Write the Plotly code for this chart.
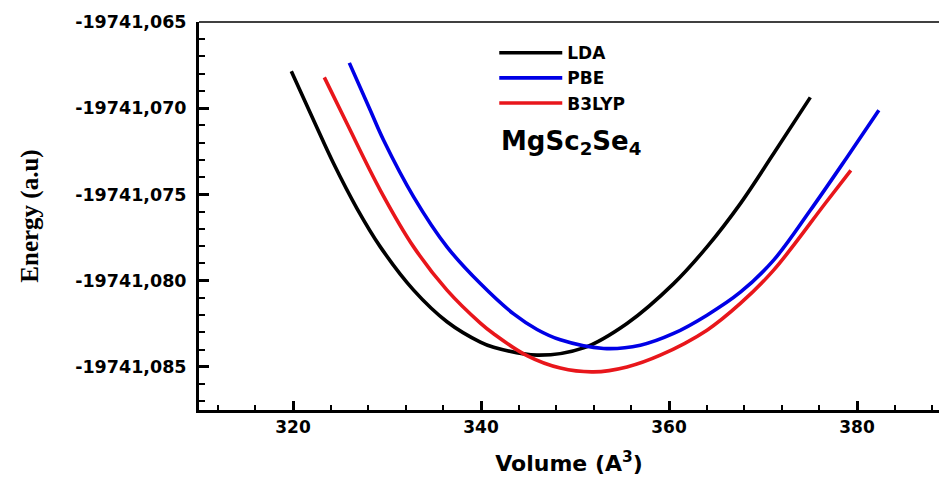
import plotly.graph_objects as go

# ---- data ----
lda_v = [319.82, 322.19, 324.32, 326.81, 329.29, 332.83, 336.38, 339.93, 341.34,
         345.96, 350.91, 355.53, 360.49, 364.04, 367.59, 371.13, 375.03]
lda_e = [-19741.06786, -19741.07070, -19741.07321, -19741.07582, -19741.07804,
         -19741.08055, -19741.08238, -19741.08356, -19741.08386, -19741.08432,
         -19741.08390, -19741.08248, -19741.08017, -19741.07804, -19741.07553,
         -19741.07263, -19741.06937]

pbe_v = [325.99, 328.22, 329.64, 332.83, 336.38, 339.93, 343.47, 345.96, 348.44,
         353.04, 356.95, 360.49, 364.04, 367.59, 371.13, 375.03, 378.94, 382.32]
pbe_e = [-19741.06737, -19741.07012, -19741.07186, -19741.07514, -19741.07804,
         -19741.08017, -19741.08193, -19741.08283, -19741.08343, -19741.08393,
         -19741.08374, -19741.08306, -19741.08200, -19741.08067, -19741.07881,
         -19741.07592, -19741.07284, -19741.07012]

b3lyp_v = [323.33, 325.74, 329.29, 332.83, 336.38, 339.93, 341.34, 344.89,
           348.44, 351.98, 355.53, 359.07, 364.04, 367.59, 371.13, 376.63, 379.34]
b3lyp_e = [-19741.06821, -19741.07089, -19741.07476, -19741.07804,
           -19741.08055, -19741.08246, -19741.08308, -19741.08435, -19741.08507,
           -19741.08529, -19741.08500, -19741.08432, -19741.08287, -19741.08132,
           -19741.07939, -19741.07551, -19741.07360]

y_tickvals = [-19741.085, -19741.080, -19741.075, -19741.070, -19741.065]
y_ticktext = ["-19741,085", "-19741,080", "-19741,075", "-19741,070", "-19741,065"]
x_tickvals = [320, 340, 360, 380]
x_ticktext = ["320", "340", "360", "380"]

series_names = ["LDA", "PBE", "B3LYP"]
series_colors = ["#000000", "#0000e6", "#e8161b"]

SANS = "DejaVu Sans"
SERIF = "Liberation Serif"

fig = go.Figure()
for name, xs, ys, col in zip(series_names, [lda_v, pbe_v, b3lyp_v],
                             [lda_e, pbe_e, b3lyp_e], series_colors):
    fig.add_trace(go.Scatter(x=xs, y=ys, mode="lines", name=name,
                             line=dict(color=col, width=3.6, shape="spline", smoothing=1.0)))

fig.update_layout(
    width=939, height=477,
    margin=dict(l=199, r=0, t=22, b=67, autoexpand=False),
    paper_bgcolor="white", plot_bgcolor="white",
    font=dict(family=SANS, weight="bold", color="black", size=16),
    showlegend=True,
    legend=dict(x=0.399, y=0.966, xanchor="left", yanchor="top",
                bgcolor="rgba(0,0,0,0)", borderwidth=0,
                font=dict(family=SANS, weight="bold", size=17, color="black"),
                itemwidth=63, tracegroupgap=0),
    xaxis=dict(
        range=[310, 388.72], showgrid=False, zeroline=False,
        showline=True, linecolor="black", linewidth=3,
        tickmode="array", tickvals=x_tickvals, ticktext=x_ticktext,
        ticks="inside", ticklen=9, tickwidth=2.5, tickcolor="black",
        tickfont=dict(family=SANS, weight="bold", size=17, color="black"),
        minor=dict(ticks="inside", dtick=4, tick0=320, ticklen=5, tickwidth=2, tickcolor="black",
                   showgrid=False),
        title=dict(text="Volume (A<sup>3</sup>)", standoff=20,
                   font=dict(family=SANS, weight="bold", size=22, color="black")),
        automargin=False,
    ),
    yaxis=dict(
        range=[-19741.0875, -19741.065], showgrid=False, zeroline=False,
        showline=True, linecolor="black", linewidth=3,
        tickmode="array", tickvals=y_tickvals, ticktext=y_ticktext,
        ticks="inside", ticklen=10, tickwidth=2.5, tickcolor="black",
        ticklabelstandoff=6,
        tickfont=dict(family=SANS, weight="bold", size=17.5, color="black"),
        minor=dict(ticks="inside", dtick=0.001, tick0=-19741.065, ticklen=6, tickwidth=2,
                   tickcolor="black", showgrid=False),
        title=dict(text="Energy (a.u)", standoff=30,
                   font=dict(family=SERIF, weight="bold", size=25, color="black")),
        automargin=False,
    ),
    shapes=[dict(type="line", xref="paper", yref="paper", x0=0, x1=1, y0=1, y1=1,
                 line=dict(color="black", width=1.5), layer="above")],
    annotations=[dict(text="MgSc<sub>2</sub>Se<sub>4</sub>", xref="paper", yref="paper",
                      x=0.405, y=0.69, xanchor="left", yanchor="middle", showarrow=False,
                      font=dict(family=SANS, weight="bold", size=26, color="black"))],
)

fig.write_html("out.html")
